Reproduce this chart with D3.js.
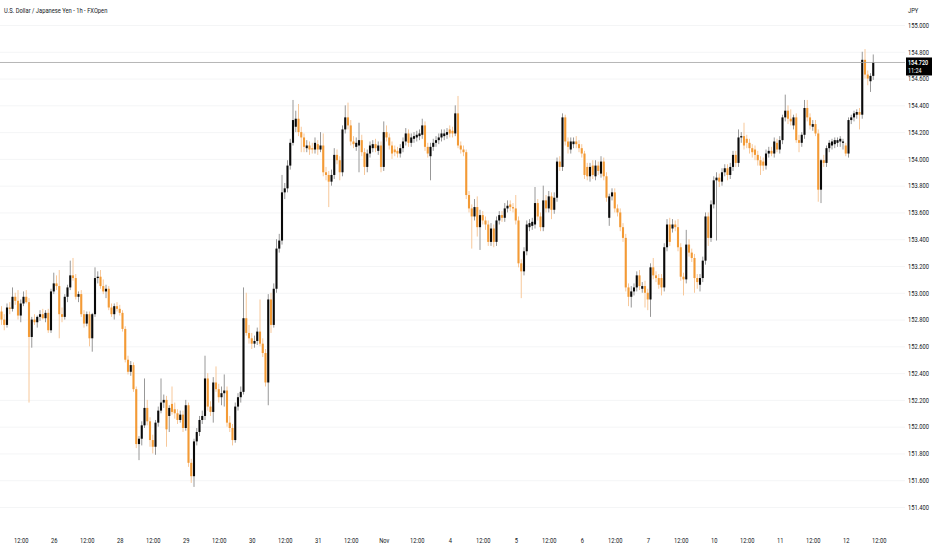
<!DOCTYPE html>
<html>
<head>
<meta charset="utf-8">
<script src="https://cdn.jsdelivr.net/npm/d3@7"></script>
<style>
  html, body { margin: 0; padding: 0; background: #fff; }
  #chart { width: 932px; height: 550px; }
  text { font-family: Roboto, "Liberation Sans", Arial, sans-serif; fill: #131722; }
</style>
</head>
<body>
<div id="chart"></div>
<script>
/* ===================================================
   USDJPY 1h candles (FXOpen)
   =================================================== */

/* ---------- Data ---------- */
const opens = [
  152.86,152.80,152.76,152.89,152.88,152.97,152.94,152.83,152.92,152.97,
  152.93,152.67,152.80,152.78,152.82,152.84,152.81,152.85,152.72,153.01,
  153.07,153.05,152.84,152.82,152.97,153.04,153.13,153.11,152.97,152.99,
  152.84,152.77,152.84,152.66,152.84,153.11,153.12,153.05,153.01,153.03,
  152.89,152.84,152.90,152.88,152.85,152.73,152.50,152.41,152.46,152.28,
  151.87,151.91,152.01,152.14,152.04,151.90,151.85,152.03,152.12,152.18,
  152.20,152.08,152.17,152.13,152.10,152.05,152.09,151.99,152.16,151.73,
  151.63,151.89,151.96,152.05,152.08,152.36,152.15,152.11,152.33,152.28,
  152.22,152.25,152.27,152.03,151.99,151.90,152.15,152.22,152.26,152.81,
  152.70,152.66,152.62,152.64,152.71,152.62,152.55,152.33,152.95,152.76,
  153.03,153.33,153.39,153.75,153.78,153.95,154.12,154.24,154.30,154.20,
  154.16,154.08,154.10,154.08,154.07,154.11,154.07,154.10,153.90,153.88,
  153.83,153.88,154.03,153.99,153.90,154.22,154.31,154.25,154.13,154.09,
  154.10,154.14,154.05,153.94,154.04,154.08,154.11,154.06,154.10,153.94,
  154.20,154.16,154.10,154.07,154.06,154.04,154.08,154.13,154.19,154.12,
  154.15,154.16,154.17,154.18,154.25,154.09,154.02,154.09,154.12,154.14,
  154.16,154.17,154.18,154.22,154.21,154.19,154.34,154.10,154.07,154.05,
  153.73,153.63,153.57,153.64,153.49,153.58,153.54,153.51,153.38,153.48,
  153.38,153.54,153.58,153.56,153.63,153.66,153.64,153.63,153.54,153.22,
  153.16,153.31,153.49,153.50,153.51,153.67,153.57,153.49,153.69,153.63,
  153.72,153.62,153.71,153.98,153.94,154.31,154.13,154.07,154.11,154.13,
  154.11,154.08,154.04,153.94,153.87,153.95,153.87,153.95,153.89,153.98,
  153.87,153.56,153.72,153.75,153.63,153.60,153.49,153.41,153.04,152.97,
  153.01,153.04,153.13,153.03,153.05,153.00,152.95,153.19,153.13,153.11,
  153.11,153.04,153.34,153.51,153.48,153.51,153.49,153.34,153.12,153.10,
  153.36,153.30,153.26,153.11,153.06,153.11,153.24,153.57,153.41,153.66,
  153.84,153.86,153.83,153.90,153.93,153.88,153.94,154.03,153.97,154.16,
  154.17,154.15,154.12,154.08,154.07,154.03,153.99,153.98,153.95,154.04,
  154.06,154.04,154.12,154.07,154.14,154.31,154.36,154.30,154.25,154.31,
  154.14,154.12,154.18,154.38,154.31,154.24,154.26,154.19,153.77,153.99,
  153.97,154.08,154.10,154.11,154.12,154.13,154.12,154.10,154.04,154.29,
  154.31,154.33,154.35,154.33,154.74,154.63,154.58,154.62
];
const highs = [
  152.90,152.84,152.92,152.93,153.04,153.00,153.02,152.95,153.01,153.02,
  152.96,152.82,152.84,152.83,152.87,152.88,152.87,152.88,153.03,153.15,
  153.13,153.17,152.89,152.99,153.06,153.24,153.26,153.14,153.01,153.02,
  152.87,152.86,152.86,152.85,153.19,153.16,153.17,153.10,153.06,153.05,
  152.92,152.92,152.93,152.91,152.87,152.75,152.53,152.49,152.48,152.30,
  151.93,152.04,152.36,152.20,152.07,151.94,152.05,152.15,152.36,152.24,
  152.23,152.16,152.30,152.18,152.13,152.12,152.12,152.20,152.18,151.76,
  151.91,151.99,152.08,152.12,152.53,152.40,152.19,152.37,152.45,152.32,
  152.30,152.39,152.30,152.08,152.02,152.18,152.25,152.30,153.04,153.00,
  152.76,152.70,152.68,152.74,152.95,152.66,152.58,152.99,153.00,153.07,
  153.40,153.44,153.88,153.82,153.99,154.15,154.44,154.36,154.41,154.24,
  154.19,154.14,154.13,154.12,154.16,154.14,154.20,154.19,153.94,153.91,
  153.92,154.08,154.07,154.02,154.25,154.40,154.42,154.29,154.17,154.16,
  154.27,154.18,154.08,154.07,154.13,154.14,154.15,154.13,154.13,154.28,
  154.25,154.19,154.13,154.10,154.09,154.11,154.16,154.23,154.22,154.19,
  154.20,154.21,154.22,154.30,154.28,154.12,154.12,154.15,154.17,154.19,
  154.22,154.22,154.23,154.25,154.24,154.40,154.47,154.13,154.10,154.07,
  153.76,153.66,153.70,153.72,153.62,153.61,153.57,153.54,153.52,153.51,
  153.57,153.61,153.61,153.67,153.69,153.69,153.67,153.73,153.57,153.25,
  153.34,153.54,153.55,153.56,153.79,153.70,153.60,153.80,153.73,153.76,
  153.75,153.75,154.01,154.02,154.34,154.33,154.16,154.16,154.16,154.17,
  154.14,154.11,154.06,153.97,153.97,153.99,153.99,153.98,154.02,154.01,
  153.90,153.74,153.78,153.78,153.66,153.63,153.52,153.44,153.07,153.05,
  153.07,153.16,153.17,153.08,153.09,153.03,153.22,153.26,153.16,153.14,
  153.14,153.37,153.55,153.56,153.55,153.54,153.55,153.37,153.15,153.47,
  153.40,153.33,153.29,153.14,153.14,153.27,153.60,153.60,153.69,153.87,
  153.90,153.89,153.93,153.96,153.96,153.97,154.06,154.06,154.22,154.20,
  154.27,154.18,154.15,154.11,154.10,154.06,154.02,154.01,154.07,154.09,
  154.09,154.16,154.15,154.17,154.33,154.48,154.40,154.37,154.33,154.34,
  154.18,154.20,154.44,154.44,154.34,154.29,154.29,154.22,154.00,154.03,
  154.10,154.14,154.15,154.16,154.16,154.17,154.15,154.12,154.31,154.33,
  154.36,154.37,154.38,154.80,154.82,154.66,154.64,154.78
];
const lows = [
  152.76,152.72,152.74,152.84,152.86,152.91,152.80,152.78,152.90,152.92,
  152.18,152.59,152.76,152.74,152.79,152.80,152.78,152.70,152.70,152.99,
  153.02,152.66,152.78,152.80,152.93,153.02,153.09,152.95,152.93,152.82,
  152.74,152.75,152.60,152.56,152.82,153.07,153.03,152.99,152.96,152.87,
  152.82,152.80,152.86,152.83,152.71,152.48,152.39,152.38,152.26,151.84,
  151.75,151.86,151.99,152.01,151.85,151.80,151.79,152.00,152.10,152.14,
  151.85,151.96,152.09,152.06,152.02,152.03,151.96,151.97,151.70,151.58,
  151.55,151.86,151.93,152.02,152.05,152.12,152.08,152.03,152.26,152.18,
  152.16,152.15,152.00,151.96,151.86,151.88,152.12,152.18,152.24,152.68,
  152.62,152.58,152.59,152.61,152.60,152.52,152.30,152.16,152.70,152.74,
  153.00,153.30,153.36,153.70,153.75,153.92,154.10,154.20,154.17,154.05,
  154.05,154.05,154.03,154.04,154.04,154.03,154.05,153.87,153.84,153.64,
  153.80,153.85,153.96,153.84,153.87,154.19,154.22,154.10,154.08,154.06,
  153.90,154.02,153.88,153.90,154.01,154.05,154.05,154.03,153.90,153.91,
  154.13,154.07,154.00,154.02,154.01,154.01,154.05,154.10,154.09,154.09,
  154.12,154.13,154.14,154.15,154.06,154.01,153.84,154.06,154.09,154.11,
  154.13,154.14,154.15,154.16,154.16,154.17,154.08,154.04,154.02,153.70,
  153.60,153.33,153.54,153.42,153.32,153.51,153.47,153.35,153.35,153.34,
  153.35,153.51,153.53,153.53,153.60,153.61,153.60,153.51,153.19,152.96,
  153.13,153.28,153.46,153.47,153.48,153.54,153.46,153.46,153.60,153.60,
  153.55,153.59,153.68,153.91,153.91,154.10,154.04,154.04,154.08,154.08,
  154.05,154.01,153.85,153.84,153.83,153.85,153.84,153.88,153.86,153.84,
  153.68,153.50,153.69,153.60,153.57,153.46,153.38,153.01,152.90,152.89,
  152.98,153.01,153.02,153.00,152.89,152.87,152.82,153.10,153.08,153.03,
  152.98,153.01,153.31,153.35,153.45,153.46,153.31,153.09,152.98,153.07,
  153.27,153.23,153.00,153.03,153.01,153.08,153.21,153.35,153.38,153.63,
  153.39,153.79,153.80,153.87,153.84,153.85,153.91,153.94,153.94,154.12,
  154.07,154.08,154.04,154.01,153.99,153.95,153.88,153.91,153.92,154.01,
  154.02,154.01,154.05,154.04,154.11,154.28,154.26,154.25,154.22,154.12,
  154.05,154.09,154.15,154.28,154.22,154.21,154.17,153.68,153.67,153.94,
  153.94,154.05,154.07,154.08,154.09,154.09,154.07,154.02,154.01,154.26,
  154.28,154.30,154.22,154.30,154.60,154.55,154.50,154.59
];
const closes = [
  152.80,152.76,152.89,152.88,152.97,152.94,152.83,152.92,152.97,152.93,
  152.67,152.80,152.78,152.82,152.84,152.81,152.85,152.72,153.01,153.07,
  153.05,152.84,152.82,152.97,153.04,153.13,153.11,152.97,152.99,152.84,
  152.77,152.84,152.66,152.84,153.11,153.12,153.05,153.01,153.03,152.89,
  152.84,152.90,152.88,152.85,152.73,152.50,152.41,152.46,152.28,151.87,
  151.91,152.01,152.14,152.04,151.90,151.85,152.03,152.12,152.18,152.20,
  151.98,152.14,152.11,152.10,152.05,152.09,151.99,152.16,151.73,151.63,
  151.89,151.96,152.05,152.08,152.36,152.15,152.11,152.33,152.28,152.22,
  152.25,152.27,152.03,151.99,151.90,152.15,152.22,152.26,152.81,152.70,
  152.66,152.62,152.64,152.71,152.62,152.55,152.33,152.95,152.76,153.03,
  153.33,153.39,153.75,153.78,153.95,154.12,154.29,154.30,154.20,154.16,
  154.09,154.10,154.07,154.07,154.12,154.07,154.10,153.90,153.88,153.83,
  153.88,154.03,153.99,153.90,154.22,154.31,154.25,154.13,154.11,154.12,
  154.14,154.05,153.94,154.04,154.10,154.11,154.08,154.10,153.94,154.20,
  154.16,154.10,154.04,154.05,154.04,154.08,154.13,154.19,154.12,154.16,
  154.17,154.18,154.19,154.25,154.09,154.04,154.09,154.12,154.14,154.16,
  154.19,154.19,154.20,154.19,154.19,154.34,154.10,154.07,154.05,153.73,
  153.63,153.57,153.64,153.49,153.58,153.54,153.51,153.38,153.48,153.38,
  153.54,153.58,153.56,153.63,153.65,153.64,153.63,153.54,153.22,153.16,
  153.31,153.51,153.52,153.53,153.67,153.57,153.49,153.69,153.63,153.72,
  153.62,153.71,153.98,153.94,154.31,154.13,154.09,154.13,154.13,154.11,
  154.08,154.04,153.88,153.87,153.94,153.88,153.95,153.91,153.98,153.87,
  153.71,153.72,153.75,153.63,153.60,153.49,153.41,153.04,152.97,153.01,
  153.04,153.13,153.05,153.05,153.00,152.95,153.19,153.13,153.11,153.06,
  153.04,153.34,153.51,153.38,153.51,153.49,153.34,153.12,153.10,153.36,
  153.30,153.26,153.11,153.08,153.11,153.24,153.57,153.41,153.66,153.84,
  153.86,153.83,153.90,153.93,153.88,153.94,154.03,153.97,154.16,154.17,
  154.10,154.12,154.08,154.05,154.03,153.99,153.95,153.95,154.04,154.06,
  154.04,154.13,154.07,154.14,154.31,154.36,154.30,154.28,154.31,154.14,
  154.12,154.18,154.38,154.31,154.25,154.26,154.19,153.77,153.99,153.97,
  154.08,154.12,154.13,154.14,154.14,154.15,154.13,154.04,154.29,154.31,
  154.34,154.35,154.33,154.74,154.63,154.60,154.62,154.72
];

// bar number under each time label
const timeTickBars = [7,19,31,43,55,67,79,91,103,115,127,139,151,163,175,187,199,211,223,235,247,259,271,283,295,307,319];
const timeTickLabels = ["12:00","26","12:00","28","12:00","29","12:00","30","12:00","31","12:00","Nov","12:00","4","12:00","5","12:00","6","12:00","7","12:00","10","12:00","11","12:00","12","12:00"];
const priceTicks = [151.4,151.6,151.8,152.0,152.2,152.4,152.6,152.8,153.0,153.2,153.4,153.6,153.8,154.0,154.2,154.4,154.6,154.8,155.0];
const countdown = "11:24";

/* ---------- Chart ---------- */
function drawCandleChart() {
  const width = 932, height = 550;
  const plotRight = 905;
  const upColor = "#0a0a0a", upWick = "#8c8c8c";
  const downColor = "#f39a35", downWick = "#f6c28e";

  const svg = d3.select("#chart").append("svg")
    .attr("width", width)
    .attr("height", height);

  const x = d3.scaleLinear()
    .domain([0, 319])
    .range([1.5, 878.75]);

  const y = d3.scaleLinear()
    .domain([151.4, 155.0])
    .range([507, 25]);

  // Grid Lines
  svg.append("g")
    .call(d3.axisRight(y).tickValues(priceTicks).tickSize(plotRight).tickFormat(""))
    .call(g => g.select(".domain").remove())
    .selectAll("line")
    .attr("stroke", "#f4f5f6");

  // Candles
  const bars = d3.range(closes.length);
  const candle = svg.append("g").selectAll("g")
    .data(bars)
    .enter().append("g");

  candle.append("line")
    .attr("x1", i => x(i))
    .attr("x2", i => x(i))
    .attr("y1", i => y(highs[i]))
    .attr("y2", i => y(lows[i]))
    .attr("stroke", i => closes[i] >= opens[i] ? upWick : downWick)
    .attr("stroke-width", 0.9);

  candle.append("rect")
    .attr("x", i => x(i) - 1.05)
    .attr("width", 2.1)
    .attr("y", i => y(Math.max(opens[i], closes[i])))
    .attr("height", i => Math.max(0.8, Math.abs(y(opens[i]) - y(closes[i]))))
    .attr("fill", i => closes[i] >= opens[i] ? upColor : downColor);

  // Price Axis
  svg.append("g")
    .attr("transform", "translate(908,0)")
    .call(d3.axisRight(y).tickValues(priceTicks).tickSize(0).tickPadding(0).tickFormat(d3.format(".3f")))
    .call(g => g.select(".domain").remove())
    .selectAll("text")
    .attr("transform", "scale(0.8,1)")
    .style("font-size", "7.2px")
    .style("fill", "#131722");

  // Time Axis
  svg.append("g")
    .attr("transform", "translate(0,537.5)")
    .call(d3.axisBottom(x).tickValues(timeTickBars).tickSize(0).tickPadding(0)
      .tickFormat((d, i) => timeTickLabels[i]))
    .call(g => g.select(".domain").remove())
    .selectAll("text")
    .attr("transform", "scale(0.8,1)")
    .style("font-size", "7.2px")
    .style("fill", "#131722");

  // Last price line + label
  const last = closes[closes.length - 1];
  svg.append("line")
    .attr("x1", 0)
    .attr("x2", plotRight)
    .attr("y1", y(last))
    .attr("y2", y(last))
    .attr("stroke", "#a3a3a3")
    .attr("stroke-width", 0.8);

  svg.append("rect")
    .attr("x", 906)
    .attr("y", y(last) - 5)
    .attr("width", 26)
    .attr("height", 18)
    .attr("fill", "#000");

  svg.append("text")
    .attr("transform", `translate(908,${y(last) + 2.2}) scale(0.8,1)`)
    .text(d3.format(".3f")(last))
    .style("font-size", "6.8px")
    .style("font-weight", "600")
    .style("fill", "#fff");

  svg.append("text")
    .attr("transform", `translate(908,${y(last) + 10.6}) scale(0.8,1)`)
    .text(countdown)
    .style("font-size", "6.8px")
    .style("fill", "#fff");

  // Title + currency
  svg.append("text")
    .attr("transform", "translate(4,13) scale(0.74,1)")
    .text("U.S. Dollar / Japanese Yen - 1h - FXOpen")
    .style("font-size", "7.8px");

  svg.append("text")
    .attr("transform", "translate(908,13) scale(0.8,1)")
    .text("JPY")
    .style("font-size", "7.2px");
}

drawCandleChart();
</script>
</body>
</html>
